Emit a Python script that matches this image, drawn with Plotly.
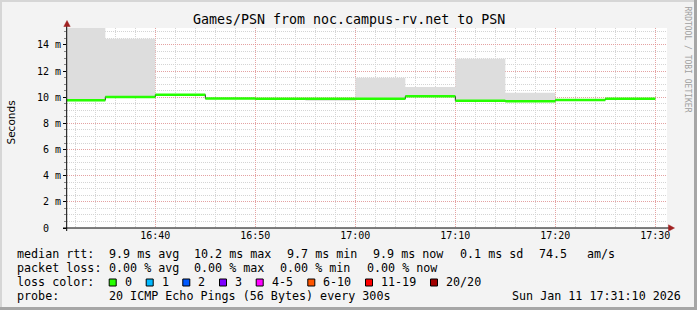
import plotly.graph_objects as go

# ---------------- data ----------------
day = "2026-01-11 "
bucket_start = ["16:30", "16:35", "16:40", "16:45", "16:50", "16:55",
                "17:00", "17:05", "17:10", "17:15", "17:20", "17:25"]
bucket_end = "17:30"
median_ms = [9.78, 10.03, 10.20, 9.91, 9.88, 9.88, 9.88, 10.08, 9.74, 9.70, 9.79, 9.88]
smoke_hi_ms = [15.4, 14.47, 10.25, 9.95, 9.93, 9.93, 11.50, 10.78, 12.95, 10.35, 9.82, 9.92]
smoke_lo_ms = [9.70, 9.95, 10.15, 9.85, 9.82, 9.74, 9.82, 10.00, 9.68, 9.65, 9.75, 9.85]

x_range = ["16:31:10", "17:31:10"]
x_ticks = ["16:40", "16:50", "17:00", "17:10", "17:20", "17:30"]
y_ticks = [0, 2, 4, 6, 8, 10, 12, 14]
y_ticktext = ["0\u00a0\u00a0", "2 m", "4 m", "6 m", "8 m", "10 m", "12 m", "14 m"]

title_text = "Games/PSN from noc.campus-rv.net to PSN"
y_title = "Seconds"
watermark = "RRDTOOL / TOBI OETIKER"

stats_rows = [
    # (y pixel, [(x pixel, text), ...])
    (254, [(16, "median rtt:"), (107.7, "9.9 ms avg"), (193.3, "10.2 ms max"),
           (286, "9.7 ms min"), (372.3, "9.9 ms now"), (459, "0.1 ms sd"),
           (538.3, "74.5"), (586, "am/s")]),
    (268, [(16, "packet loss:"), (107.7, "0.00 % avg"), (193.3, "0.00 % max"),
           (279.3, "0.00 % min"), (365.7, "0.00 % now")]),
    (282, [(16, "loss color:")]),
    (296, [(16, "probe:"), (107.7, "20 ICMP Echo Pings (56 Bytes) every 300s")]),
]
stamp_text = "Sun Jan 11 17:31:10 2026"

loss_labels = ["0", "1", "2", "3", "4-5", "6-10", "11-19", "20/20"]
loss_colors = ["#26ff00", "#00b8ff", "#0059ff", "#7e00ff", "#ff00ff", "#ff5500", "#ff0000", "#a10000"]
loss_box_x = [108.7, 145.7, 182.3, 219, 255.7, 307.3, 365, 430]

# ---------------- geometry helpers ----------------
W, H = 697, 310
L, R, T, B = 67, 30, 28, 82
PW, PH = W - L - R, H - T - B


def px(xp):
    return (xp - L) / PW


def py(yp):
    return (H - B - yp) / PH


def t(s):
    return day + s


mono = "DejaVu Sans Mono"

xs_step = [t(s) for s in bucket_start] + [t(bucket_end)]

fig = go.Figure()

# smoke band
fig.add_trace(go.Scatter(x=xs_step, y=smoke_lo_ms + [smoke_lo_ms[-1]], mode="lines",
                         line=dict(width=0, shape="hv", color="rgba(0,0,0,0)"),
                         hoverinfo="skip"))
fig.add_trace(go.Scatter(x=xs_step, y=smoke_hi_ms + [smoke_hi_ms[-1]], mode="lines",
                         line=dict(width=0, shape="hv", color="rgba(0,0,0,0)"),
                         fill="tonexty", fillcolor="#dddddd", hoverinfo="skip"))
# dark median line (shows vertical connectors)
fig.add_trace(go.Scatter(x=xs_step, y=median_ms + [median_ms[-1]], mode="lines",
                         line=dict(width=1, shape="hv", color="#202020"),
                         hoverinfo="skip"))
# green loss-coloured median segments
gx, gy = [], []
ends = bucket_start[1:] + [bucket_end]
for s, e, m in zip(bucket_start, ends, median_ms):
    gx += [t(s), t(e), None]
    gy += [m, m, None]
fig.add_trace(go.Scatter(x=gx, y=gy, mode="lines",
                         line=dict(width=2.5, color=loss_colors[0]),
                         hoverinfo="skip"))

major_grid = "rgba(240,120,120,0.55)"
minor_grid = "#d4d4d4"

fig.update_xaxes(
    type="date", range=[t(x_range[0]), t(x_range[1])],
    tickvals=[t(v) for v in x_ticks], ticktext=x_ticks,
    showgrid=True, gridcolor=major_grid, griddash="1px,1px", gridwidth=1,
    minor=dict(dtick=120000, tick0=t("16:40"), showgrid=True, gridcolor=minor_grid,
               griddash="1px,1px", gridwidth=1, ticks=""),
    ticks="", showline=False, zeroline=False,
    tickfont=dict(family=mono, size=10, color="black"),
)
fig.update_yaxes(
    range=[0, 15.3], tickvals=y_ticks, ticktext=y_ticktext,
    showgrid=True, gridcolor=major_grid, griddash="1px,1px", gridwidth=1,
    minor=dict(dtick=0.5, showgrid=True, gridcolor=minor_grid, griddash="1px,1px",
               gridwidth=1, ticks="outside", ticklen=2, tickcolor="#888"),
    ticks="outside", ticklen=3, tickcolor="black",
    showline=False, zeroline=False,
    tickfont=dict(family=mono, size=10, color="black"),
)

shapes = []
# outer frame
shapes.append(dict(type="rect", xref="paper", yref="paper", x0=px(0), x1=px(W), y0=py(0), y1=py(2),
                   fillcolor="#d6d6d6", line_width=0, layer="below"))
shapes.append(dict(type="rect", xref="paper", yref="paper", x0=px(0), x1=px(2), y0=py(0), y1=py(H),
                   fillcolor="#d6d6d6", line_width=0, layer="below"))
shapes.append(dict(type="rect", xref="paper", yref="paper", x0=px(0), x1=px(W), y0=py(H - 3), y1=py(H),
                   fillcolor="#a6a6a6", line_width=0, layer="below"))
shapes.append(dict(type="rect", xref="paper", yref="paper", x0=px(W - 3), x1=px(W), y0=py(0), y1=py(H),
                   fillcolor="#a6a6a6", line_width=0, layer="below"))
# axis lines
shapes.append(dict(type="line", xref="paper", yref="paper", x0=px(63), x1=px(670), y0=py(228), y1=py(228),
                   line=dict(color="black", width=1)))
shapes.append(dict(type="line", xref="paper", yref="paper", x0=px(66.7), x1=px(66.7), y0=py(231), y1=py(25),
                   line=dict(color="black", width=1)))
# arrows
shapes.append(dict(type="path", xref="paper", yref="paper",
                   path=f"M {px(63.8)} {py(26.5)} L {px(70.2)} {py(26.5)} L {px(67)} {py(20.5)} Z",
                   fillcolor="#a02020", line=dict(color="#a02020", width=0.5)))
shapes.append(dict(type="path", xref="paper", yref="paper",
                   path=f"M {px(668.5)} {py(224.8)} L {px(668.5)} {py(231.2)} L {px(674.5)} {py(228)} Z",
                   fillcolor="#a02020", line=dict(color="#a02020", width=0.5)))
# loss colour boxes
for bx, c in zip(loss_box_x, loss_colors):
    shapes.append(dict(type="rect", xref="paper", yref="paper",
                       x0=px(bx + 0.5), x1=px(bx + 7.5), y0=py(279), y1=py(286),
                       fillcolor=c, line=dict(color="black", width=1)))

ann = []
ann.append(dict(text=title_text, x=px(W / 2), y=py(19), xref="paper", yref="paper",
                xanchor="center", yanchor="middle", showarrow=False,
                font=dict(family=mono, size=13.3, color="black")))
ann.append(dict(text=y_title, x=px(10.5), y=py(123), xref="paper", yref="paper",
                xanchor="center", yanchor="middle", showarrow=False, textangle=-90,
                font=dict(family="DejaVu Sans", size=10.5, color="black")))
ann.append(dict(text=watermark, x=px(687.5), y=py(59), xref="paper", yref="paper",
                xanchor="center", yanchor="middle", showarrow=False, textangle=90,
                font=dict(family=mono, size=8, color="#a0a0a0")))
for yy, items in stats_rows:
    for xx, txt in items:
        ann.append(dict(text=txt, x=px(xx), y=py(yy), xref="paper", yref="paper",
                        xanchor="left", yanchor="middle", showarrow=False, borderpad=0,
                        font=dict(family=mono, size=11.7, color="black")))
for bx, lab in zip(loss_box_x, loss_labels):
    ann.append(dict(text=lab, x=px(bx + 15), y=py(282), xref="paper", yref="paper",
                    xanchor="left", yanchor="middle", showarrow=False, borderpad=0,
                    font=dict(family=mono, size=11.7, color="black")))
ann.append(dict(text=stamp_text, x=px(682), y=py(296), xref="paper", yref="paper",
                xanchor="right", yanchor="middle", showarrow=False, borderpad=0,
                font=dict(family=mono, size=11.7, color="black")))

fig.update_layout(
    width=W, height=H,
    margin=dict(l=L, r=R, t=T, b=B, pad=0, autoexpand=False),
    paper_bgcolor="#f3f3f3", plot_bgcolor="white",
    showlegend=False, hovermode=False,
    shapes=shapes, annotations=ann,
)

fig.write_html("out.html", config={"displayModeBar": False})
